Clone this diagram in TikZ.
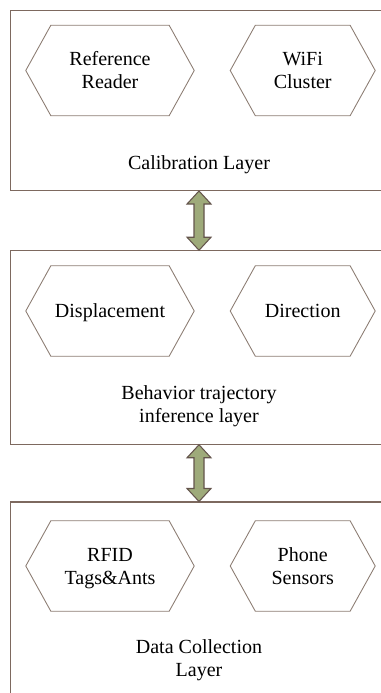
\documentclass[tikz,border=0pt]{standalone}
\usepackage{fontspec}
\setmainfont{Liberation Serif}
\usetikzlibrary{shapes,arrows}
\usetikzlibrary{positioning}
\usetikzlibrary{calc}
\definecolor{myline}{RGB}{125,105,95}
\definecolor{hexline}{RGB}{140,125,115}
\definecolor{mygreen}{RGB}{158,170,122}
\newcommand\mytext[2]{#1\\#2}
\newcommand\myhex[4][]{%
  \node[myhex,#1,minimum width=\the\dimexpr#2cm] (#3) {\rule{0pt}{11.4pt}#4\strut};
}
\newcommand\myarrow[2]{%
  \draw[myarrow] (#1.south) -- ++(12,13) -- ++(-7,0) -- ($(#2.north)+(5,-13)$) -- ++(7,0) -- (#2.north) -- ++(-12,-13) -- ++(7,0) -- ($(#1.south)+(-5,13)$) -- ++(-7,0) -- cycle;
}

\begin{document}
\begin{tikzpicture}[
x=0.02cm, y=-0.02cm,
font=\fontsize{11.4}{13.1}\selectfont,
layer/.style={
  draw=myline,
  line width=0.6pt,
  minimum width=7.56cm,
  inner sep=0pt},
myhex/.style={
  signal,
  signal to=west and east,
  signal pointer angle=122,
  draw=hexline,
  line width=0.5pt,
  minimum height=1.81cm,
  inner sep=0pt,
  align=center},
myarrow/.style={
  draw=myline!80!black,
  line width=0.6pt,
  fill=mygreen},
layertext/.style={
  align=center}
]
\clip (0,0) rectangle (381,693);
\useasboundingbox (0,0) rectangle (381,693);
% calibration layer
\node[layer, minimum height=3.6cm] (cal) at (199,100.5) {};
\myhex[at={(110,70.5)}]{3.37}{ref}{\mytext{Reference}{Reader}}
\myhex[right=0.7cm of ref]{2.9}{wifi}{\mytext{WiFi}{Cluster}}
\node[layertext] (caltext) at (199,165) {Calibration Layer};
% behavior layer
\node[layer, minimum height=3.87cm] (beh) at (199,347.5) {};
\myhex[at={(110,311)}]{3.37}{disp}{Displacement}
\myhex[right=0.7cm of disp]{2.9}{dir}{Direction}
\node[layertext] (behtext) at (199,406.5) {\mytext{Behavior trajectory}{inference layer}};
% data collection layer
\node[layer, minimum height=3.9cm] (data) at (199,599.5) {};
\myhex[at={(110,566)}]{3.37}{rfid}{\mytext{RFID}{Tags\&Ants}}
\myhex[right=0.7cm of rfid]{2.9}{phone}{\mytext{Phone}{Sensors}}
\node[layertext] (datatext) at (199,660) {\mytext{Data Collection}{Layer}};
% arrows
\myarrow{cal}{beh}
\myarrow{beh}{data}
\end{tikzpicture}
\end{document}
